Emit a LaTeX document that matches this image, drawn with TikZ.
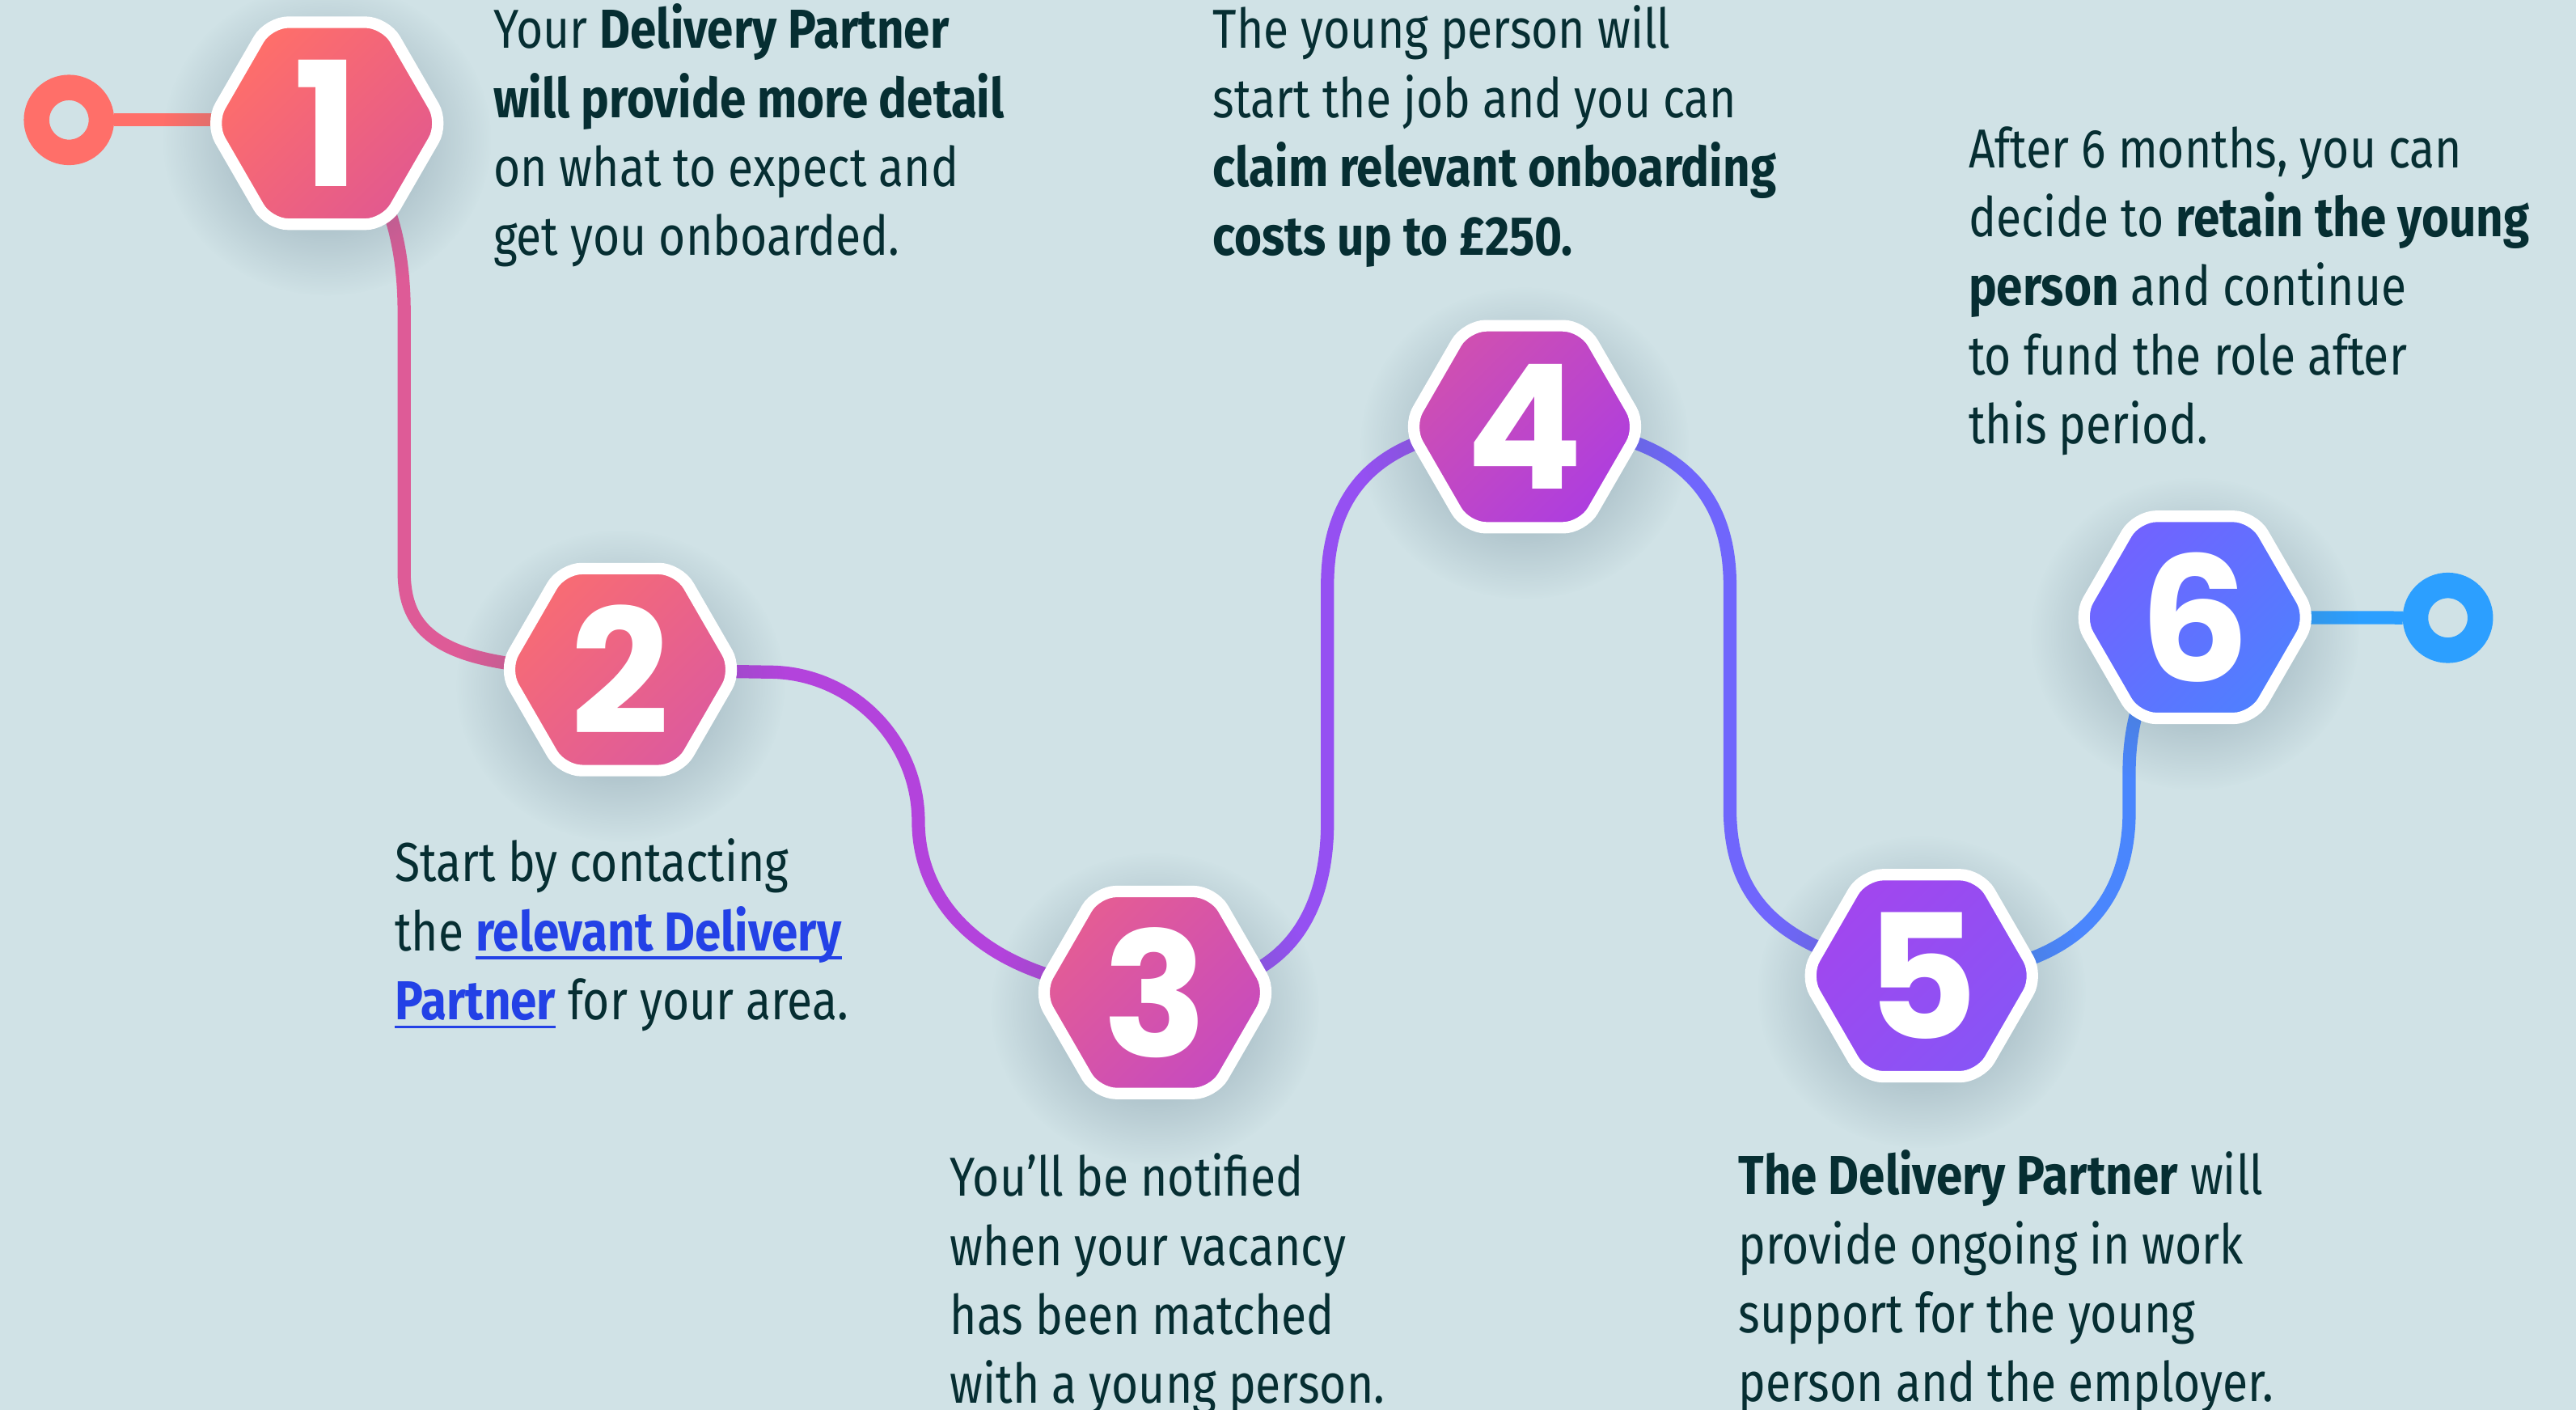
\documentclass[tikz,border=0pt]{standalone}
\usepackage{fontspec}
\setmainfont{Fira Sans}[UprightFeatures={FakeStretch=0.84},BoldFeatures={FakeStretch=0.86}]
\newfontfamily\numfont{Poppins}
\usetikzlibrary{shapes.geometric,fadings}

\definecolor{bgc}{HTML}{D0E2E6}
\definecolor{textc}{HTML}{062E32}
\definecolor{linkc}{HTML}{2341E6}
\definecolor{shadowc}{HTML}{4E6B7E}
% hexagon fills (top left / bottom right)
\definecolor{h1a}{HTML}{FF6F69}\definecolor{h1b}{HTML}{E2598F}
\definecolor{h2a}{HTML}{F86C73}\definecolor{h2b}{HTML}{DD5A9D}
\definecolor{h3a}{HTML}{E55D93}\definecolor{h3b}{HTML}{C64AC0}
\definecolor{h4a}{HTML}{D050B0}\definecolor{h4b}{HTML}{AD3DE0}
\definecolor{h5a}{HTML}{A246EE}\definecolor{h5b}{HTML}{8755F6}
\definecolor{h6a}{HTML}{7262FF}\definecolor{h6b}{HTML}{4F80FF}
% line colours, start to end
\definecolor{l0}{HTML}{FF6F69}
\definecolor{l1}{HTML}{DE5B97}
\definecolor{l2}{HTML}{B343DC}
\definecolor{l3}{HTML}{9550F2}
\definecolor{l4}{HTML}{7066FC}
\definecolor{l5}{HTML}{4A86FD}
\definecolor{l6}{HTML}{2C9FFF}

\pgfdeclarelayer{back}
\pgfdeclarelayer{links}
\pgfsetlayers{back,links,main}

\tikzfading[name=soft shadow,inner color=transparent!45,outer color=transparent!100]

% underlined link text
\newcommand\lnk[1]{{\bfseries\color{linkc}\setbox0\hbox{#1}\rlap{\rule[-3pt]{\wd0}{1pt}}\box0}}

\begin{document}
\begin{tikzpicture}[x=0.02cm,y=0.02cm]

\tikzstyle{hexstep}=[regular polygon,regular polygon sides=6,minimum size=2.84cm,inner sep=0pt,
	draw=white,line width=0.14cm,rounded corners=0.24cm,text=white,
	font=\numfont\bfseries\fontsize{60}{60}\selectfont]
\tikzstyle{terminal}=[circle,minimum size=0.79cm,inner sep=0pt,line width=0.31cm]
\tikzstyle{link}=[line width=0.16cm]
\tikzstyle{blurb}=[anchor=base west,align=left,inner sep=0pt,text=textc,
	font=\fontsize{19}{23.9}\selectfont]

\useasboundingbox (0,0) rectangle (1568,-858);

\node[hexstep,top color=h1a,bottom color=h1b,shading angle=45] (s1) at (199,-75)     {1};
\node[hexstep,top color=h2a,bottom color=h2b,shading angle=45] (s2) at (377.6,-407.5) {2};
\node[hexstep,top color=h3a,bottom color=h3b,shading angle=45] (s3) at (703,-604)    {3};
\node[hexstep,top color=h4a,bottom color=h4b,shading angle=45] (s4) at (928,-259.7)  {4};
\node[hexstep,top color=h5a,bottom color=h5b,shading angle=45] (s5) at (1169.6,-593.8) {5};
\node[hexstep,top color=h6a,bottom color=h6b,shading angle=45] (s6) at (1336,-375.7) {6};

\node[terminal,draw=l0] (start) at (42,-73)   {};
\node[terminal,draw=l6] (end)   at (1490,-376) {};

% blurbs sit on the baseline of their last line
\node[blurb] (t1) at (300,-155.5) {Your \textbf{Delivery Partner}\\
	\textbf{will provide more detail}\\
	on what to expect and\\
	get you onboarded.};
\node[blurb] (t2) at (240,-620.5) {Start by contacting\\
	the \lnk{relevant Delivery}\\
	\lnk{Partner} for your area.};
\node[blurb] (t3) at (578,-854) {You’ll be notified\\
	when your vacancy\\
	has been matched\\
	with a young person.};
\node[blurb] (t4) at (738,-155.5) {The young person will\\
	start the job and you can\\
	\textbf{claim relevant onboarding}\\
	\textbf{costs up to £250.}};
\node[blurb] (t5) at (1058,-853) {\textbf{The Delivery Partner} will\\
	provide ongoing in work\\
	support for the young\\
	person and the employer.};
\node[blurb] (t6) at (1198,-270) {After 6 months, you can\\
	decide to \textbf{retain the young}\\
	\textbf{person} and continue\\
	to fund the role after\\
	this period.};

\begin{pgfonlayer}{back}
\fill[bgc] (0,0) rectangle (1568,-858);
\end{pgfonlayer}

\begin{pgfonlayer}{links}
\draw[link,l0] (start) -- (start -| s1.center);
\draw[link,l1] (s1.center) .. controls (232,-100) and (246,-140) .. (246,-190) -- (246,-348)
	.. controls (246,-390) and (275,-408) .. (s2.center);
\draw[link,l2] (s2.center) -- (468,-409) .. controls (518,-409) and (559,-450) .. (559,-500)
	.. controls (559,-550) and (600,-600) .. (s3.center);
\draw[link,l3] (s3.center) .. controls (780,-604) and (808,-560) .. (808,-500) -- (808,-356)
	.. controls (808,-290) and (850,-259) .. (s4.center);
\draw[link,l4] (s4.center) .. controls (1008,-259) and (1053,-290) .. (1053,-356) -- (1053,-492)
	.. controls (1053,-545) and (1080,-580) .. (s5.center);
\draw[link,l5] (s5.center) .. controls (1250,-594) and (1296,-560) .. (1296,-494) -- (1296,-470)
	.. controls (1296,-430) and (1310,-400) .. (s6.center);
\draw[link,l6] (s6.center) -- (end);
% soft shadows under the steps
\foreach \s in {s1,s2,s3,s4,s5,s6}
	\fill[shadowc,path fading=soft shadow] ([yshift=-0.2cm]\s.center) ellipse [x radius=2cm,y radius=1.9cm];
\end{pgfonlayer}

\end{tikzpicture}
\end{document}
